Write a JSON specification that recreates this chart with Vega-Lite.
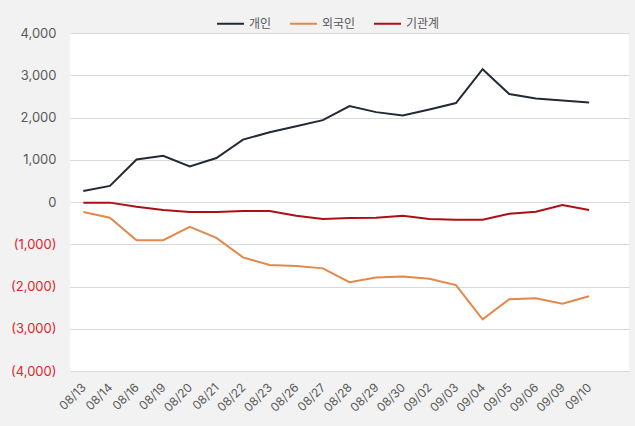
{
  "$schema": "https://vega.github.io/schema/vega-lite/v6.json",
  "width": 559,
  "height": 338,
  "autosize": {"type": "none"},
  "padding": {"left": 70, "top": 33, "right": 6, "bottom": 55},
  "background": "#f2f2f2",
  "config": {
    "view": {"fill": "#ffffff", "stroke": null},
    "font": "Inter"
  },
  "data": {
    "values": [
      {"date": "08/13", "series": "개인", "value": 262},
      {"date": "08/14", "series": "개인", "value": 381},
      {"date": "08/16", "series": "개인", "value": 1007},
      {"date": "08/19", "series": "개인", "value": 1095},
      {"date": "08/20", "series": "개인", "value": 841},
      {"date": "08/21", "series": "개인", "value": 1040},
      {"date": "08/22", "series": "개인", "value": 1476},
      {"date": "08/23", "series": "개인", "value": 1651},
      {"date": "08/26", "series": "개인", "value": 1794},
      {"date": "08/27", "series": "개인", "value": 1937},
      {"date": "08/28", "series": "개인", "value": 2270},
      {"date": "08/29", "series": "개인", "value": 2127},
      {"date": "08/30", "series": "개인", "value": 2048},
      {"date": "09/02", "series": "개인", "value": 2190},
      {"date": "09/03", "series": "개인", "value": 2341},
      {"date": "09/04", "series": "개인", "value": 3143},
      {"date": "09/05", "series": "개인", "value": 2556},
      {"date": "09/06", "series": "개인", "value": 2452},
      {"date": "09/09", "series": "개인", "value": 2405},
      {"date": "09/10", "series": "개인", "value": 2357},
      {"date": "08/13", "series": "외국인", "value": -238},
      {"date": "08/14", "series": "외국인", "value": -373},
      {"date": "08/16", "series": "외국인", "value": -905},
      {"date": "08/19", "series": "외국인", "value": -905},
      {"date": "08/20", "series": "외국인", "value": -587},
      {"date": "08/21", "series": "외국인", "value": -849},
      {"date": "08/22", "series": "외국인", "value": -1310},
      {"date": "08/23", "series": "외국인", "value": -1492},
      {"date": "08/26", "series": "외국인", "value": -1516},
      {"date": "08/27", "series": "외국인", "value": -1571},
      {"date": "08/28", "series": "외국인", "value": -1897},
      {"date": "08/29", "series": "외국인", "value": -1786},
      {"date": "08/30", "series": "외국인", "value": -1762},
      {"date": "09/02", "series": "외국인", "value": -1817},
      {"date": "09/03", "series": "외국인", "value": -1968},
      {"date": "09/04", "series": "외국인", "value": -2778},
      {"date": "09/05", "series": "외국인", "value": -2302},
      {"date": "09/06", "series": "외국인", "value": -2278},
      {"date": "09/09", "series": "외국인", "value": -2405},
      {"date": "09/10", "series": "외국인", "value": -2230},
      {"date": "08/13", "series": "기관계", "value": -15},
      {"date": "08/14", "series": "기관계", "value": -15},
      {"date": "08/16", "series": "기관계", "value": -111},
      {"date": "08/19", "series": "기관계", "value": -190},
      {"date": "08/20", "series": "기관계", "value": -238},
      {"date": "08/21", "series": "기관계", "value": -238},
      {"date": "08/22", "series": "기관계", "value": -214},
      {"date": "08/23", "series": "기관계", "value": -214},
      {"date": "08/26", "series": "기관계", "value": -325},
      {"date": "08/27", "series": "기관계", "value": -405},
      {"date": "08/28", "series": "기관계", "value": -381},
      {"date": "08/29", "series": "기관계", "value": -373},
      {"date": "08/30", "series": "기관계", "value": -325},
      {"date": "09/02", "series": "기관계", "value": -405},
      {"date": "09/03", "series": "기관계", "value": -421},
      {"date": "09/04", "series": "기관계", "value": -421},
      {"date": "09/05", "series": "기관계", "value": -278},
      {"date": "09/06", "series": "기관계", "value": -230},
      {"date": "09/09", "series": "기관계", "value": -71},
      {"date": "09/10", "series": "기관계", "value": -190}
    ]
  },
  "mark": {"type": "line", "strokeWidth": 2},
  "encoding": {
    "x": {
      "field": "date",
      "type": "ordinal",
      "sort": null,
      "scale": {"type": "point", "padding": 1, "align": 0.25},
      "axis": {
        "title": null,
        "domain": false,
        "ticks": false,
        "grid": false,
        "labelAngle": -45,
        "labelAlign": "right",
        "labelBaseline": "middle",
        "labelPadding": 14,
        "labelFontSize": 12,
        "labelColor": "#595959"
      }
    },
    "y": {
      "field": "value",
      "type": "quantitative",
      "scale": {"domain": [-4000, 4000], "nice": false, "zero": false},
      "axis": {
        "title": null,
        "values": [-4000, -3000, -2000, -1000, 0, 1000, 2000, 3000, 4000],
        "domain": false,
        "ticks": false,
        "grid": true,
        "gridColor": "#d9d9d9",
        "gridWidth": 1,
        "labelPadding": 14,
        "labelFontSize": 13,
        "labelColor": {"condition": {"test": "datum.value < 0", "value": "#e0262b"}, "value": "#595959"},
        "labelExpr": "datum.value < 0 ? '(' + format(-datum.value, ',') + ')' : format(datum.value, ',')"
      }
    },
    "color": {
      "field": "series",
      "type": "nominal",
      "scale": {"domain": ["개인", "외국인", "기관계"], "range": ["#222a36", "#e2894a", "#ab1014"]},
      "legend": {
        "title": null,
        "orient": "none",
        "direction": "horizontal",
        "legendX": 146,
        "legendY": -24,
        "symbolType": "stroke",
        "symbolSize": 729,
        "symbolStrokeWidth": 2,
        "labelFont": "Noto Sans CJK KR",
        "labelFontSize": 12,
        "labelColor": "#595959",
        "labelOffset": 4,
        "columnPadding": 14
      }
    }
  }
}
